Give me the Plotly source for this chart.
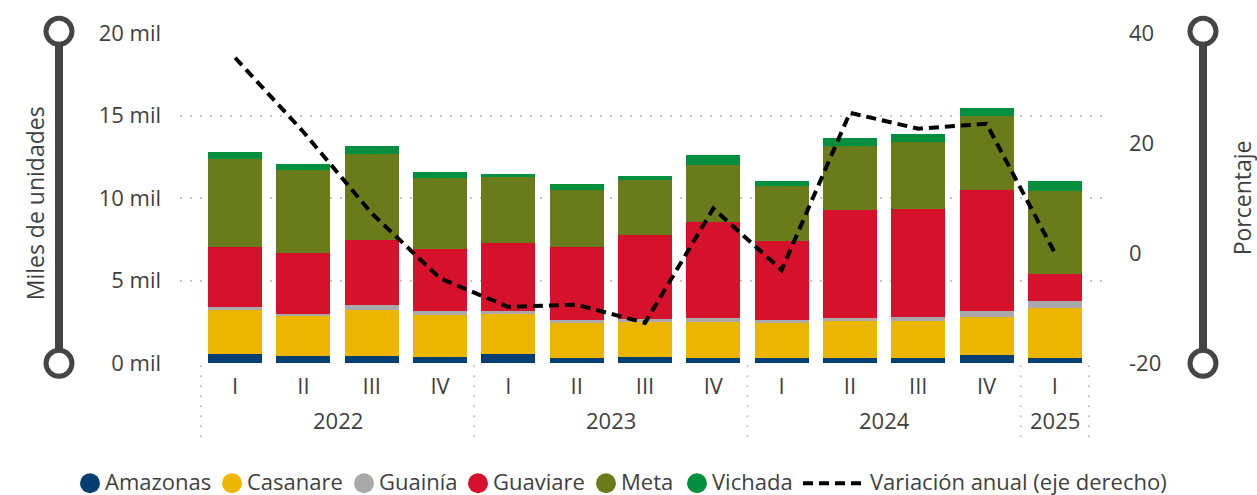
import plotly.graph_objects as go

# ---------------- data ----------------
quarters = ["I", "II", "III", "IV", "I", "II", "III", "IV", "I", "II", "III", "IV", "I"]
years = ["2022", "2022", "2022", "2022", "2023", "2023", "2023", "2023",
         "2024", "2024", "2024", "2024", "2025"]

amazonas = [530, 410, 410, 350, 530, 290, 350, 290, 290, 290, 290, 470, 290]
casanare = [2660, 2440, 2780, 2540, 2480, 2180, 2120, 2180, 2120, 2240, 2240, 2300, 3020]
guainia = [180, 120, 310, 240, 120, 120, 180, 240, 180, 180, 240, 360, 420]
guaviare = [3640, 3680, 3950, 3760, 4120, 4420, 5080, 5820, 4780, 6540, 6540, 7380, 1660]
meta = [5340, 5030, 5200, 4300, 4040, 3500, 3380, 3460, 3380, 3880, 4060, 4480, 5020]
vichada = [420, 360, 480, 400, 180, 360, 240, 600, 300, 520, 520, 480, 600]
variacion = [35.5, 22.0, 7.2, -4.6, -9.8, -9.4, -12.7, 8.1, -3.1, 25.5, 22.6, 23.5, 0.0]

series_names = ["Amazonas", "Casanare", "Guainía", "Guaviare", "Meta", "Vichada"]
series_values = [amazonas, casanare, guainia, guaviare, meta, vichada]
series_colors = ["#003F72", "#EBB500", "#A9A9A9", "#D5112B", "#6A7B1C", "#008F3E"]
line_name = "Variación anual (eje derecho)"

left_ticks = [0, 5000, 10000, 15000, 20000]
left_ticktext = ["0 mil", "5 mil", "10 mil", "15 mil", "20 mil"]
right_ticks = [-20, 0, 20, 40]
right_ticktext = ["-20", "0", "20", "40"]

# ---------------- figure ----------------
FONT = "Open Sans"
TXT = "#3F3F3F"
GRID = "#C8C8C8"
LINE_DASH = "10px,6px"
x = list(range(len(quarters)))

fig = go.Figure()
for name, vals, col in zip(series_names, series_values, series_colors):
    fig.add_trace(go.Bar(x=x, y=vals, name=name, marker=dict(color=col, line=dict(width=0)),
                         showlegend=False, hovertemplate=name + ": %{y}<extra></extra>"))

fig.add_trace(go.Scatter(x=x, y=variacion, name=line_name, showlegend=False,
                         yaxis="y2", mode="lines",
                         line=dict(color="black", width=4, dash=LINE_DASH)))

# plot geometry (pixels)
W, H = 1257, 495
L, R, T, B = 180, 1102, 32.7, 362.7
pw, ph = R - L, B - T


def px2paper_x(px):
    return (px - L) / pw


def px2paper_y(py):
    return (B - py) / ph


xr = [-0.5 - 21 / 68.3, len(quarters) - 0.5 + 13 / 68.3]

shapes = []
annotations = []

# year group separators and labels
groups = []
start = 0
for i in range(1, len(years) + 1):
    if i == len(years) or years[i] != years[start]:
        groups.append((years[start], start, i - 1))
        start = i
bounds = [g[1] - 0.5 for g in groups] + [groups[-1][2] + 0.5]
for b in bounds:
    shapes.append(dict(type="line", xref="x", yref="paper", x0=b, x1=b,
                       y0=px2paper_y(365), y1=px2paper_y(441),
                       line=dict(color=GRID, width=2, dash="2px,8px"), layer="below"))
for yr, s, e in groups:
    annotations.append(dict(x=(s + e) / 2, xref="x", y=px2paper_y(420), yref="paper",
                            text=yr, showarrow=False, yanchor="middle", xanchor="center",
                            font=dict(family=FONT, size=22, color=TXT)))

# decorative axis bars with hollow circles
AX = "#464544"
for cx in (59, 1203):
    xp = px2paper_x(cx)
    shapes.append(dict(type="line", xref="paper", yref="paper", x0=xp, x1=xp,
                       y0=px2paper_y(31), y1=px2paper_y(363),
                       line=dict(color=AX, width=8)))
    for cy in (31, 363):
        shapes.append(dict(type="circle", xref="paper", yref="paper",
                           xsizemode="pixel", ysizemode="pixel",
                           xanchor=xp, yanchor=px2paper_y(cy),
                           x0=-13, x1=13, y0=-13, y1=13,
                           fillcolor="white", line=dict(color=AX, width=5)))

# axis titles
annotations.append(dict(x=px2paper_x(35), y=px2paper_y(203), xref="paper", yref="paper",
                        text="Miles de unidades", textangle=-90, showarrow=False,
                        xanchor="center", yanchor="middle",
                        font=dict(family=FONT, size=23, color=TXT)))
annotations.append(dict(x=px2paper_x(1242), y=px2paper_y(198), xref="paper", yref="paper",
                        text="Porcentaje", textangle=-90, showarrow=False,
                        xanchor="center", yanchor="middle",
                        font=dict(family=FONT, size=23, color=TXT)))

# legend (drawn manually to match single-row layout)
LEG_Y = px2paper_y(481)
legend_symbol_x = [90, 232, 364, 478, 606, 697]
for name, col, sx in zip(series_names, series_colors, legend_symbol_x):
    shapes.append(dict(type="circle", xref="paper", yref="paper",
                       xsizemode="pixel", ysizemode="pixel",
                       xanchor=px2paper_x(sx), yanchor=px2paper_y(483),
                       x0=-10, x1=10, y0=-10, y1=10,
                       fillcolor=col, line=dict(width=0)))
    annotations.append(dict(x=px2paper_x(sx + 13), y=LEG_Y, xref="paper", yref="paper",
                            text=name, showarrow=False, xanchor="left", yanchor="middle",
                            font=dict(family=FONT, size=22, color=TXT)))
shapes.append(dict(type="line", xref="paper", yref="paper",
                   x0=px2paper_x(803), x1=px2paper_x(862),
                   y0=px2paper_y(483), y1=px2paper_y(483),
                   line=dict(color="black", width=4, dash="10px,6px")))
annotations.append(dict(x=px2paper_x(868), y=LEG_Y, xref="paper", yref="paper",
                        text=line_name, showarrow=False, xanchor="left", yanchor="middle",
                        font=dict(family=FONT, size=22, color=TXT)))

fig.update_layout(
    width=W, height=H,
    margin=dict(l=L, r=W - R, t=T, b=H - B, pad=0, autoexpand=False),
    barmode="stack", bargap=0.21,
    plot_bgcolor="white", paper_bgcolor="white",
    font=dict(family=FONT, size=22, color=TXT),
    xaxis=dict(range=xr, tickvals=x, ticktext=quarters, showgrid=False, zeroline=False,
               showline=False, ticks="", ticklabelstandoff=8, fixedrange=True,
               tickfont=dict(family=FONT, size=22, color=TXT)),
    yaxis=dict(range=[0, 20000], tickvals=left_ticks, ticktext=left_ticktext,
               showgrid=True, gridcolor=GRID, gridwidth=2, griddash="2px,8px",
               zeroline=False, showline=False, ticks="", ticklabelstandoff=18,
               tickfont=dict(family=FONT, size=22, color=TXT)),
    yaxis2=dict(range=[-20, 40], tickvals=right_ticks, ticktext=right_ticktext,
                overlaying="y", side="right",
                showgrid=False, zeroline=False, showline=False, ticks="",
                ticklabelstandoff=26, tickfont=dict(family=FONT, size=22, color=TXT)),
    shapes=shapes,
    annotations=annotations,
    showlegend=False,
)

fig.write_html("out.html", config={"displayModeBar": False},
               post_script="document.body.style.margin='0';document.body.style.overflow='hidden';")
